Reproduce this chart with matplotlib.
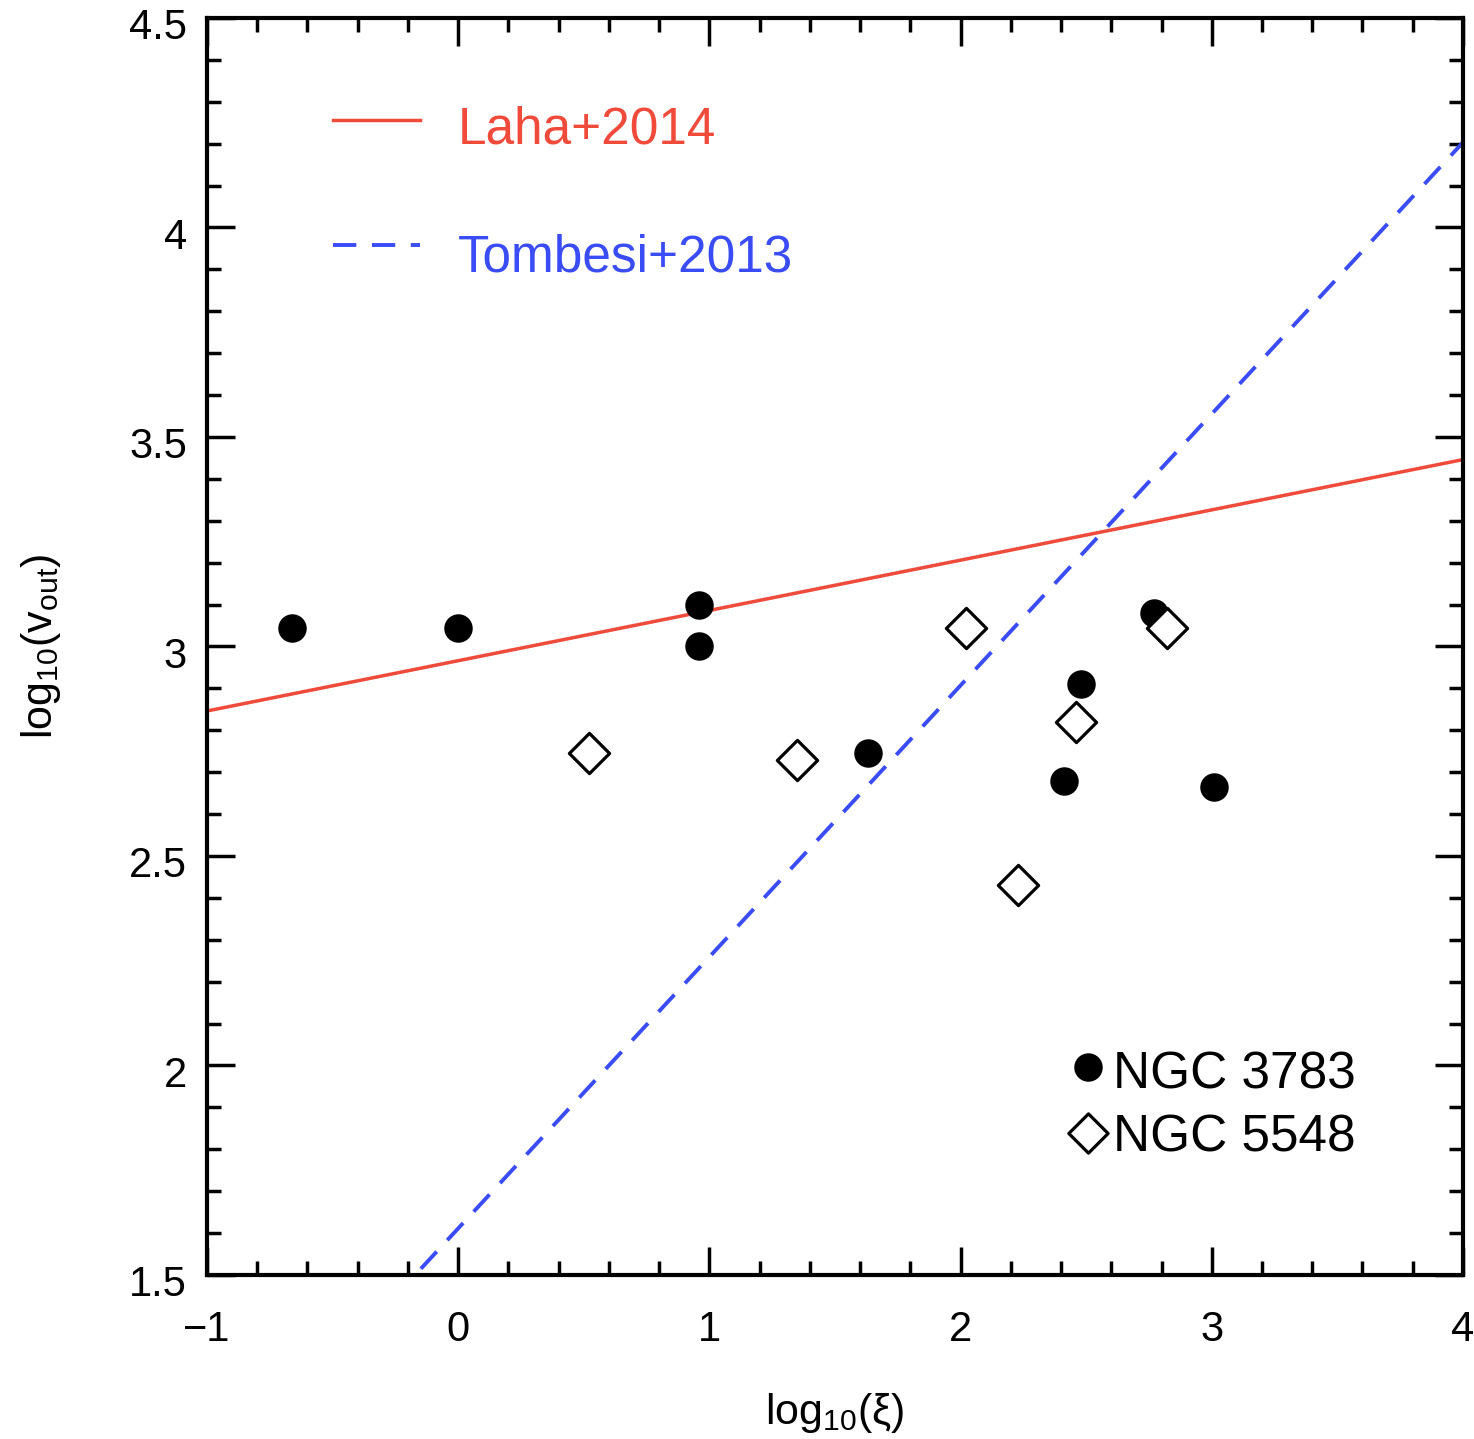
import numpy as np
import matplotlib
matplotlib.use("Agg")
import matplotlib.pyplot as plt
from matplotlib.ticker import MultipleLocator

plt.rcParams['font.family'] = ['Liberation Sans', 'DejaVu Sans']
plt.rcParams['mathtext.fontset'] = 'custom'
plt.rcParams['mathtext.rm'] = 'Liberation Sans'
plt.rcParams['mathtext.it'] = 'Liberation Sans:italic'

# data
ngc3783_x = [-0.66, 0.0, 0.96, 0.96, 1.63, 2.77, 2.48, 2.41, 3.01]
ngc3783_y = [3.045, 3.045, 3.10, 3.00, 2.745, 3.08, 2.91, 2.68, 2.665]
ngc5548_x = [0.52, 1.35, 2.02, 2.82, 2.46, 2.23]
ngc5548_y = [2.745, 2.73, 3.045, 3.045, 2.82, 2.43]

laha_slope, laha_icpt = 0.12, 2.966
tomb_slope, tomb_icpt = 0.648, 1.611

fig = plt.figure(figsize=(14.74, 14.39), dpi=100)
ax = fig.add_axes([0.1404, 0.114, 0.8521, 0.8735])

xx = np.linspace(-1, 4, 200)
ax.plot(xx, laha_slope * xx + laha_icpt, color='#f04a3a', lw=2.5)
ax.plot(xx, tomb_slope * xx + tomb_icpt, color='#3a4cf5', lw=2.8, dashes=(6, 4))

ax.scatter(ngc3783_x, ngc3783_y, s=380, c='black', marker='o', zorder=3)
ax.scatter(ngc5548_x, ngc5548_y, s=420, facecolors='white', edgecolors='black',
           marker='D', linewidths=2.3, zorder=3)

# in-plot legends
ax.plot([-0.5, -0.15], [4.256, 4.256], color='#f04a3a', lw=2.5)
ax.text(0.0, 4.233, 'Laha+2014', color='#f04a3a', fontsize=37, va='center')
ax.plot([-0.5, -0.15], [3.958, 3.958], color='#3a4cf5', lw=2.8, dashes=(6, 4))
ax.text(0.0, 3.927, 'Tombesi+2013', color='#3a4cf5', fontsize=37, va='center')

ax.scatter([2.507], [1.996], s=380, c='black', marker='o')
ax.text(2.607, 1.978, 'NGC 3783', fontsize=37, va='center')
ax.scatter([2.507], [1.839], s=400, facecolors='white', edgecolors='black',
           marker='D', linewidths=2.3)
ax.text(2.607, 1.828, 'NGC 5548', fontsize=37, va='center')

ax.set_xlim(-1, 4)
ax.set_ylim(1.5, 4.5)
ax.xaxis.set_major_locator(MultipleLocator(1))
ax.xaxis.set_minor_locator(MultipleLocator(0.2))
ax.yaxis.set_major_locator(MultipleLocator(0.5))
ax.yaxis.set_minor_locator(MultipleLocator(0.1))
ax.set_xticklabels([])
ax.set_yticklabels([])
ax.tick_params(which='both', direction='in', top=True, right=True, width=2.5)
ax.tick_params(which='major', length=20)
ax.tick_params(which='minor', length=10)
for s in ax.spines.values():
    s.set_linewidth(3)

xlab = ['\u22121', '0', '1', '2', '3', '4']
for v, t in zip(range(-1, 5), xlab):
    ax.text(v, 1.369, t, fontsize=30, ha='center', va='center')
ylab = ['1.5', '2', '2.5', '3', '3.5', '4', '4.5']
for v, t in zip(np.arange(1.5, 4.6, 0.5), ylab):
    ax.text(-1.08, v - 0.024, t, fontsize=30, ha='right', va='center')

ax.text(0.5, -0.11, 'log$_{10}$(\u03be)', transform=ax.transAxes,
        fontsize=31, ha='center', va='center')
ax.text(-0.132, 0.5, r'log$_{10}$(v$_{\rm out}$)', transform=ax.transAxes,
        fontsize=31, ha='center', va='center', rotation=90)

fig.savefig('out.png', dpi=100)
